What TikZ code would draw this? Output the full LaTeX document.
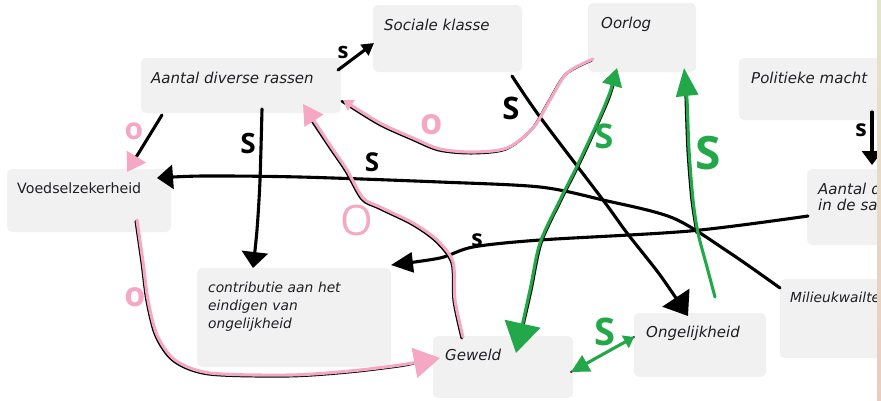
\documentclass[tikz,border=0pt]{standalone}
\usepackage{fontspec}
\setmainfont{DejaVu Sans}
\newfontfamily\labfont{Open Sans}
\usetikzlibrary{arrows.meta}
\definecolor{boxgray}{RGB}{241,241,241}
\definecolor{pinkc}{RGB}{245,168,196}
\definecolor{greenc}{RGB}{34,168,72}
\definecolor{txtc}{RGB}{30,30,36}
\definecolor{stripTop}{RGB}{226,229,206}
\definecolor{stripBot}{RGB}{233,204,190}
\begin{document}
\begin{tikzpicture}[x=1pt,y=-1pt,
  box/.style={fill=boxgray,rounded corners=5pt,draw=none,anchor=north west,inner sep=0pt,outer sep=0pt},
  txt/.style={anchor=base west,inner sep=0pt,text=txtc,font=\fontsize{15}{17}\selectfont\itshape},
  blk/.style={draw=black,line width=3.1pt,line cap=round,line join=round},
  pnk/.style={draw=pinkc,line width=3.1pt,line cap=round,line join=round},
  grn/.style={draw=greenc,line width=3.1pt,line cap=round,line join=round},
  under/.style={draw=black,line width=2.6pt,line cap=round,line join=round},
  lab/.style={inner sep=0pt},
  labfs/.style={font=\labfont\bfseries\fontsize{#1}{#1}\selectfont},
  labfr/.style={font=\labfont\fontsize{#1}{#1}\selectfont}
]
\useasboundingbox (0,0) rectangle (881,400);
\begin{scope}
\clip (0,0) rectangle (877,400);
% boxes
\node[box,minimum width=200pt,minimum height=55pt] (adr) at (141,58) {};
\node[box,minimum width=149pt,minimum height=67pt] (soc) at (373,5) {};
\node[box,minimum width=108pt,minimum height=69pt] (oor) at (588,3) {};
\node[box,minimum width=150pt,minimum height=62pt] (pol) at (739,58) {};
\node[box,minimum width=164pt,minimum height=63pt] (voe) at (7,169) {};
\node[box,minimum width=90pt,minimum height=76pt] (aan) at (807,169) {};
\node[box,minimum width=194pt,minimum height=99pt] (con) at (197,268) {};
\node[box,minimum width=110pt,minimum height=79pt] (mil) at (780,279) {};
\node[box,minimum width=140pt,minimum height=62pt] (gew) at (433,336) {};
\node[box,minimum width=132pt,minimum height=64pt] (ong) at (634,313) {};
% texts
\node[txt] (adrT) at (151,83) {Aantal diverse rassen};
\node[txt] (socT) at (384,30) {Sociale klasse};
\node[txt] (oorT) at (601,28) {Oorlog};
\node[txt] (polT) at (751,83) {Politieke macht};
\node[txt,font=\fontsize{14.2}{17}\selectfont] (voeT) at (17,193) {Voedselzekerheid};
\node[txt,text width=80pt,align=left,font=\fontsize{15}{16}\selectfont\itshape] (aanT) at (818,194) {Aantal d\\in de sa};
\node[txt,font=\fontsize{13.8}{17}\selectfont\itshape] (milT) at (790,302) {Milieukwailte};
\node[txt,text width=180pt,align=left,font=\fontsize{13.8}{18}\selectfont\itshape] (conT) at (208,292) {contributie aan het\\eindigen van\\ongelijkheid};
\node[txt] (gewT) at (445,360) {Geweld};
\node[txt] (ongT) at (646,337) {Ongelijkheid};
% endpoints
\coordinate (p1s) at (338,70);  \coordinate (p1e) at (374,43);
\coordinate (p2s) at (162,115); \coordinate (p2e) at (127,172);
\coordinate (p3s) at (262,109); \coordinate (p3e) at (253,268);
\coordinate (p4s) at (780,288); \coordinate (p4e) at (157,178);
\coordinate (p5s) at (808,216); \coordinate (p5e) at (391,265);
\coordinate (p6s) at (512,76);  \coordinate (p6e) at (688,316);
\coordinate (p7s) at (593,59);  \coordinate (p7e) at (343,100);
\coordinate (p8s) at (463,337); \coordinate (p8e) at (303,104);
\coordinate (p9s) at (137,220); \coordinate (p9e) at (440,358);
\coordinate (p10s) at (617,68); \coordinate (p10e) at (516,353);
\coordinate (p11s) at (715,297); \coordinate (p11e) at (684,68);
\coordinate (p12s) at (634,337); \coordinate (p12e) at (571,372);
\coordinate (p13s) at (872,112); \coordinate (p13e) at (872,165);
% black connectors
\draw[blk,-{Triangle[length=12pt,width=13pt]}] (p1s) -- (p1e);
\draw[blk,-{Triangle[length=18pt,width=22pt,color=pinkc]}] (p2s) -- (p2e);
\draw[blk,-{Triangle[length=16pt,width=26pt]}] plot[smooth,tension=0.5] coordinates {(p3s) (260,180) (257,230) (p3e)};
\draw[blk,-{Triangle[length=16pt,width=24pt]}] plot[smooth,tension=0.5] coordinates {(p4s) (730,253) (673,218) (603,200) (540,187) (440,182) (300,177) (203,176) (p4e)};
\draw[blk,-{Triangle[length=22pt,width=20pt]}] plot[smooth,tension=0.5] coordinates {(p5s) (690,231) (540,240) (473,247) (440,258) (p5e)};
\draw[blk,-{Triangle[length=22pt,width=32pt]}] plot[smooth,tension=0.5] coordinates {(p6s) (540,117) (603,200) (627,233) (660,275) (p6e)};
\draw[blk,-{Triangle[length=14pt,width=20pt]}] (p13s) -- (p13e);
% pink connectors with black trace underneath
\draw[under,transform canvas={xshift=-1.2pt,yshift=-1.2pt}] plot[smooth,tension=0.5] coordinates {(p7s) (567,73) (550,100) (533,128) (507,148) (473,152) (440,149) (413,138) (380,123) (p7e)};
\draw[pnk,-{Triangle[length=10pt,width=12pt]}] plot[smooth,tension=0.5] coordinates {(p7s) (567,73) (550,100) (533,128) (507,148) (473,152) (440,149) (413,138) (380,123) (p7e)};
\draw[under,transform canvas={xshift=-1.2pt,yshift=-1.2pt}] plot[smooth,tension=0.5] coordinates {(p8s) (455,300) (453,262) (437,240) (413,223) (380,207) (363,198) (347,170) (330,145) (312,118)};
\draw[pnk,-{Triangle[length=20pt,width=22pt]}] plot[smooth,tension=0.5] coordinates {(p8s) (455,300) (453,262) (437,240) (413,223) (380,207) (363,198) (347,170) (330,145) (p8e)};
\draw[under,transform canvas={xshift=-1.2pt,yshift=-1.2pt}] plot[smooth,tension=0.5] coordinates {(p9s) (143,262) (148,300) (157,335) (175,360) (210,373) (290,375) (350,371) (400,365) (415,362)};
\draw[pnk,-{Triangle[length=26pt,width=30pt]}] plot[smooth,tension=0.5] coordinates {(p9s) (143,262) (148,300) (157,335) (175,360) (210,373) (290,375) (350,371) (400,365) (p9e)};
% green connectors with black trace underneath
\draw[under,line width=2pt,transform canvas={xshift=1.6pt}] plot[smooth,tension=0.5] coordinates {(612,85) (605,105) (580,160) (560,200) (540,243) (530,290) (522,325)};
\draw[grn,{Triangle[length=18pt,width=20pt]}-{Triangle[length=30pt,width=36pt]}] plot[smooth,tension=0.5] coordinates {(p10s) (605,105) (580,160) (560,200) (540,243) (530,290) (p10e)};
\draw[under,line width=2pt,transform canvas={xshift=-1.6pt}] plot[smooth,tension=0.5] coordinates {(698,233) (693,200) (689,150) (687,95)};
\draw[grn,-{Triangle[length=28pt,width=22pt]}] plot[smooth,tension=0.5] coordinates {(p11s) (707,267) (698,233) (693,200) (689,150) (687,100) (p11e)};
\draw[under,line width=1.8pt] (p12s) -- (p12e);
\draw[grn,{Triangle[length=10pt,width=14pt]}-{Triangle[length=18pt,width=18pt]}] (p12s) -- (p12e);
% labels
\node[lab,labfs=22] (l1) at (343,52) {s};
\node[lab,labfs=30,text=pinkc] (l2) at (134,131) {o};
\node[lab,labfs=28] (l3) at (248,143) {S};
\node[lab,labfs=26] (l4) at (372,162) {S};
\node[lab,labfs=23] (l5) at (477,240) {s};
\node[lab,labfs=31] (l6) at (511,108) {S};
\node[lab,labfs=36,text=pinkc] (l7) at (432,125) {o};
\node[lab,labfr=42,text=pinkc] (l8) at (357,220) {O};
\node[lab,labfs=34,text=pinkc] (l9) at (135,297) {o};
\node[lab,labfs=34,text=greenc] (l10) at (604,136) {S};
\node[lab,labfs=46,text=greenc] (l11) at (708,153) {S};
\node[lab,labfs=38,text=greenc] (l12) at (605,332) {S};
\node[lab,labfs=23] (l13) at (861,130) {s};
\end{scope}
\shade[top color=stripTop,bottom color=stripBot] (877,0) rectangle (881,400);
\end{tikzpicture}
\end{document}
